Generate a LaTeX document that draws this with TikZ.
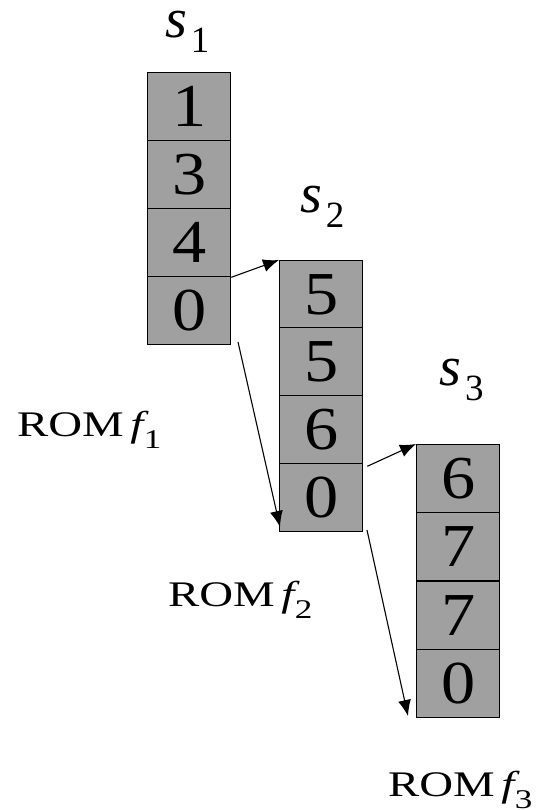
\documentclass[tikz,border=0pt]{standalone}
\usepackage{fontspec}
\setmainfont{Liberation Serif}
\usetikzlibrary{arrows.meta}
\definecolor{cellgray}{HTML}{A0A0A0}
\newcommand{\digit}[1]{\scalebox{1.12}[1]{\fontsize{61}{61}\selectfont #1}}
\tikzset{
  cell/.style={draw=black, line width=1.3pt, fill=cellgray, minimum width=83pt, minimum height=68pt,
    inner sep=0pt, text depth=0pt, anchor=north west},
  conn/.style={line width=1.1pt, -{Latex[length=16pt,width=13pt]}},
  lbl/.style={inner sep=0pt, anchor=base west}
}
\newcommand{\slbl}[1]{\fontsize{56}{56}\selectfont\itshape s\kern4pt\raisebox{-15pt}{\fontsize{37}{37}\selectfont\upshape #1}}
\newcommand{\romlbl}[1]{\scalebox{1.3}[1]{\fontsize{36}{36}\selectfont ROM\kern5pt{\itshape f}\kern0.5pt\raisebox{-12pt}{\fontsize{27}{27}\selectfont #1}}}
\begin{document}
\begin{tikzpicture}[x=1pt,y=-1pt]
\useasboundingbox (0,0) rectangle (538,810);
% block 1
\node[cell] (a1) at (147,72) {\digit{1}};
\node[cell] (a2) at (147,140) {\digit{3}};
\node[cell] (a3) at (147,208) {\digit{4}};
\node[cell] (a4) at (147,276) {\digit{0}};
% block 2
\node[cell] (b1) at (279,260) {\digit{5}};
\node[cell] (b2) at (279,327) {\digit{5}};
\node[cell] (b3) at (279,395) {\digit{6}};
\node[cell] (b4) at (279,463) {\digit{0}};
% block 3
\node[cell] (c1) at (416,444) {\digit{6}};
\node[cell] (c2) at (416,512) {\digit{7}};
\node[cell] (c3) at (416,581) {\digit{7}};
\node[cell] (c4) at (416,649) {\digit{0}};
% labels
\node[lbl] (s1) at (165,38) {\slbl{1}};
\node[lbl] (s2) at (300,213) {\slbl{2}};
\node[lbl] (s3) at (439,385) {\slbl{3}};
\node[lbl] (r1) at (17,436) {\romlbl{1}};
\node[lbl] (r2) at (168,606) {\romlbl{2}};
\node[lbl] (r3) at (388,796) {\romlbl{3}};
% connectors
\coordinate (d1s) at (238,342);
\coordinate (d1e) at (280,527);
\coordinate (d2s) at (367,530);
\coordinate (d2e) at (408,716);
\draw[conn] (a3.south east) -- (b1.north west);
\draw[conn] (d1s) -- (d1e);
\draw[conn] (b3.south east) ++(4,2) coordinate (e2s) -- (c1.north west);
\draw[conn] (d2s) -- (d2e);
\end{tikzpicture}
\end{document}
